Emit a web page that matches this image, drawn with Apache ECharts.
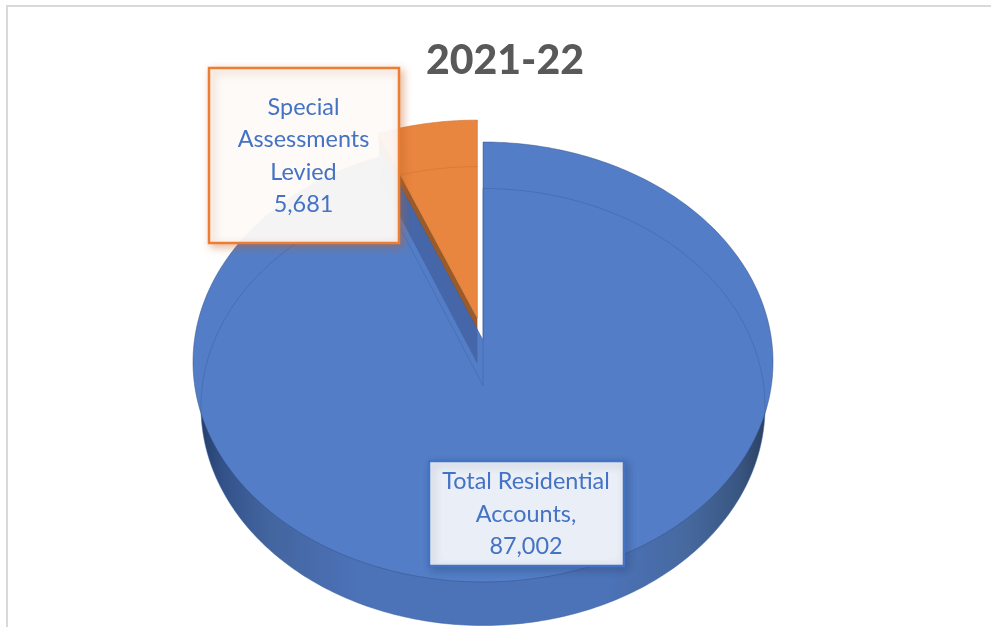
<!DOCTYPE html>
<html><head><meta charset="utf-8">
<style>html,body{margin:0;padding:0;background:#fff}#c{width:991px;height:627px}</style>
<script src="https://cdn.jsdelivr.net/npm/echarts@6/dist/echarts.min.js"></script>
</head><body><div id="c"></div>
<script>
const titleText = '2021-22';
const categories = ['Total Residential Accounts', 'Special Assessments Levied'];
const values = [87002, 5681];
const labelNames = [['Total Residential', 'Accounts,'], ['Special', 'Assessments', 'Levied']];

const chart = echarts.init(document.getElementById('c'), null, {renderer: 'canvas'});
const total = values.reduce((a, b) => a + b, 0);
const TOP = {cx: 483, cy: 362, rx: 290, ry: 220, t: -0.1};
const BOT = {cx: 483, cy: 407, rx: 282, ry: 218.5, t: -0.098};
const EXPLODE = 22.6;

function rim(e, th, off) {
  const u = Math.sin(th), v = -Math.cos(th), d = 1 + e.t * v;
  const X = Math.sqrt(1 - e.t * e.t) * u / d, Y = (v + e.t) / d;
  return [e.cx + X * e.rx + off[0], e.cy + Y * e.ry + off[1]];
}
function apex(e, off) {
  return [e.cx + off[0], e.cy + e.t * e.ry + off[1]];
}
function arcPts(e, a, b, off) {
  const n = Math.max(8, Math.ceil(Math.abs(b - a) * 60)), p = [];
  for (let i = 0; i <= n; i++) p.push(rim(e, a + (b - a) * i / n, off));
  return p;
}
const Z = [0, 0];
const LG = (stops) => new echarts.graphic.LinearGradient(0, 0, 1, 0, stops.map(s => ({offset: s[0], color: s[1]})));

function angles(idx) {
  let s = 0;
  for (let i = 0; i < idx; i++) s += values[i];
  return [s / total * Math.PI * 2, (s + values[idx]) / total * Math.PI * 2];
}
function poly(points, style, z2) {
  return {type: 'polygon', shape: {points}, style, z2: z2 || 0, silent: true};
}
function line(points, stroke, w, z2) {
  return {type: 'polyline', shape: {points}, style: {fill: null, stroke, lineWidth: w}, z2: z2 || 0, silent: true};
}
function explodeOffset() {
  const o = angles(1), r = rim(TOP, (o[0] + o[1]) / 2, Z), A = apex(TOP, Z);
  const dx = r[0] - A[0], dy = r[1] - A[1], L = Math.hypot(dx, dy);
  return [dx / L * EXPLODE, dy / L * EXPLODE];
}

function drawSlice(params, api) {
  const name = categories.indexOf(api.value(1) === 1 ? categories[1] : categories[0]);
  const [a, b] = angles(name);
  const ch = [];
  const off = explodeOffset();
  if (name === 1) {
    const tA = apex(TOP, off), bA = apex(BOT, off), tR = rim(TOP, a, off), bR = rim(BOT, a, off);
    ch.push(poly([tA, tR, bR, bA], {fill: '#9a5a2a'}));
    ch.push(poly([tA].concat(arcPts(TOP, a, b, off)), {
      fill: '#E8853F', stroke: '#D2702C', lineWidth: 0.6
    }, 1));
    ch.push(line(arcPts(BOT, a, b, off), '#D8792F', 0.8, 2));
  } else {
    const A = apex(TOP, Z), bA = apex(BOT, Z);
    const o = angles(1);
    const tR = rim(TOP, b, Z), bR = rim(BOT, b, Z);
    ch.push(poly([bA].concat(arcPts(BOT, a, b, Z)), {
      fill: LG([[0, '#263f6a'], [0.04, '#33528a'], [0.12, '#43659f'], [0.28, '#4c72b8'],
                [0.72, '#4c72b8'], [0.86, '#46699f'], [0.95, '#3a5783'], [1, '#2c4163']])
    }));
    ch.push(poly([A].concat(arcPts(TOP, a, b, Z)), {
      fill: '#537DC6', stroke: 'rgba(50,80,135,0.8)', lineWidth: 0.6
    }, 1));
    ch.push(line(arcPts(BOT, a, b, Z), 'rgba(62,98,165,0.65)', 0.8, 2));
    ch.push(line([bA, bR], 'rgba(62,98,165,0.6)', 0.8, 2));
    ch.push(line([bA, rim(BOT, a, Z)], 'rgba(62,98,165,0.6)', 0.8, 2));
    const oA = apex(BOT, off), oR = rim(BOT, o[0], off);
    const xs = oA[0], f = (xs - tR[0]) / (A[0] - tR[0]);
    const onEdge = [xs, tR[1] + (A[1] - tR[1]) * f];
    ch.push(poly([tR, onEdge, oA, oR], {fill: 'rgba(68,100,165,0.92)'}, 3));
  }
  return {type: 'group', children: ch};
}

const boxes = [
  {x: 429, y: 461, w: 195, h: 105, border: '#4472C4', fill: 'rgba(255,255,255,0.89)', shadow: 'rgba(30,50,90,0.3)'},
  {x: 209, y: 68, w: 190, h: 175, border: '#ED7D31', fill: 'rgba(255,255,255,0.92)', shadow: 'rgba(190,100,40,0.45)'}
];
const fmt = n => n.toLocaleString('en-US');
function drawLabel(params, api) {
  const i = params.dataIndex, B = boxes[i];
  const lines = labelNames[i].concat([fmt(values[i])]);
  return {type: 'group', children: [
    {type: 'rect', shape: {x: B.x, y: B.y, width: B.w, height: B.h},
     style: {fill: B.fill, stroke: B.border, lineWidth: 2.5, shadowBlur: 8, shadowOffsetX: 3, shadowOffsetY: 3, shadowColor: B.shadow}, silent: true},
    {type: 'text', x: B.x + B.w / 2 - 0.5, y: B.y + B.h / 2 + 0.5, silent: true,
     style: {text: lines.join('\n'), fill: '#4472C4', font: '400 23.4px Lato, sans-serif', lineHeight: 32.3,
       align: 'center', verticalAlign: 'middle'}}
  ]};
}

chart.setOption({
  animation: false,
  backgroundColor: '#fff',
  title: {text: titleText, left: 500, top: 31, textAlign: 'center',
    textStyle: {fontFamily: 'Lato, sans-serif', fontWeight: 900, fontSize: 41, color: '#595959', lineHeight: 50}},
  graphic: [
    {type: 'polyline', shape: {points: [[7, 627], [7, 6], [991, 6]]}, style: {fill: null, stroke: '#d9d9d9', lineWidth: 2}, silent: true}
  ],
  series: [
    {type: 'custom', coordinateSystem: 'none', z: 3, silent: true, renderItem: drawSlice,
     clip: false, data: [[values[1], 1], [values[0], 0]]},
    {type: 'custom', coordinateSystem: 'none', z: 5, silent: true, renderItem: drawLabel,
     data: categories.map((n, i) => ({value: values[i], name: n}))}
  ]
});
</script></body></html>
